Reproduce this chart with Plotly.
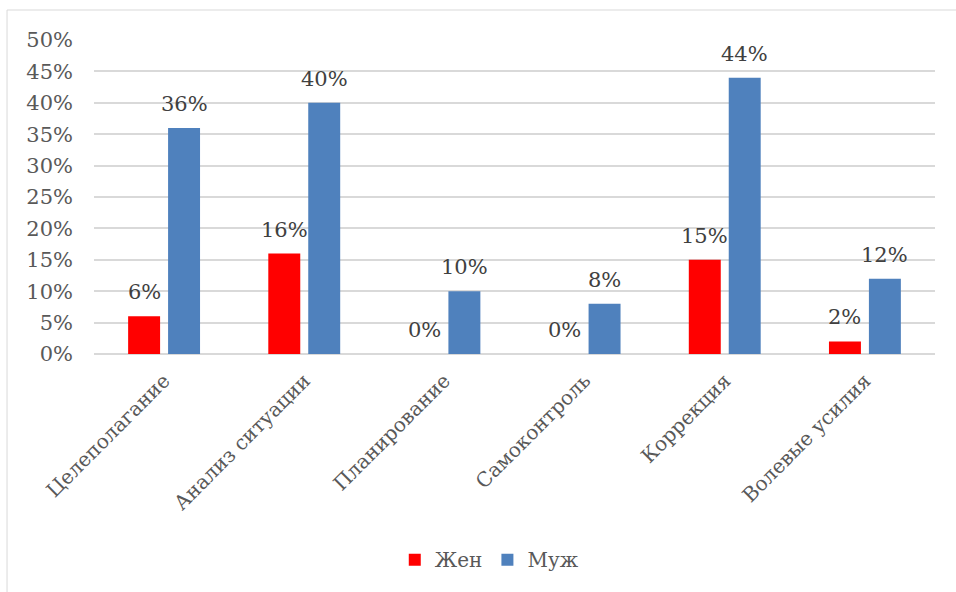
import plotly.graph_objects as go

categories = ["Целеполагание", "Анализ ситуации", "Планирование", "Самоконтроль", "Коррекция", "Волевые усилия"]
women = [6, 16, 0, 0, 15, 2]
men = [36, 40, 10, 8, 44, 12]
series_names = ["Жен", "Муж"]
colors = ["#FF0000", "#4F81BD"]
ytick_vals = [0, 5, 10, 15, 20, 25, 30, 35, 40, 45, 50]
ytick_text = [f"{v}%" for v in ytick_vals]

FONT = "DejaVu Serif"
TXT = "#595959"

fig = go.Figure()
for name, vals, col in zip(series_names, [women, men], colors):
    fig.add_trace(go.Bar(x=categories, y=vals, name=name, marker=dict(color=col, line=dict(width=0))))

annotations = []
for vals, shift in [(women, -20), (men, 20)]:
    for c, v in zip(categories, vals):
        annotations.append(dict(x=c, y=v, xref="x", yref="y", text=f"{v}%", showarrow=False,
                                xshift=shift, yshift=24, yanchor="middle",
                                font=dict(family=FONT, size=21, color="#404040")))

fig.update_layout(
    width=956, height=592,
    margin=dict(l=94, r=21, t=40, b=238),
    paper_bgcolor="white", plot_bgcolor="white",
    barmode="group", bargap=0.43, bargroupgap=0.2,
    font=dict(family=FONT, size=20, color=TXT),
    showlegend=True,
    legend=dict(orientation="h", x=0.47, xanchor="center", y=-0.655, yanchor="middle",
                itemwidth=30, font=dict(family=FONT, size=20, color=TXT), traceorder="normal"),
    annotations=annotations,
    shapes=[dict(type="rect", xref="paper", yref="paper", x0=-0.1034, y0=-1, x1=1.2, y1=1.0955,
                 line=dict(color="#D9D9D9", width=1), fillcolor="rgba(0,0,0,0)", layer="below")],
)
fig.update_xaxes(tickangle=-45, showgrid=False, showline=False, ticks="", ticklabelstandoff=10,
                 tickfont=dict(family=FONT, size=20, color=TXT))
fig.update_yaxes(range=[0, 50], tickvals=ytick_vals, ticktext=ytick_text, showgrid=True,
                 gridcolor="#D9D9D9", gridwidth=2, zeroline=True, zerolinecolor="#D9D9D9", zerolinewidth=2,
                 showline=False, ticks="", ticklen=0, ticklabelstandoff=20,
                 tickfont=dict(family=FONT, size=21, color=TXT))

fig.write_html("out.html", config={"displayModeBar": False},
               post_script="document.body.style.margin='0';")
